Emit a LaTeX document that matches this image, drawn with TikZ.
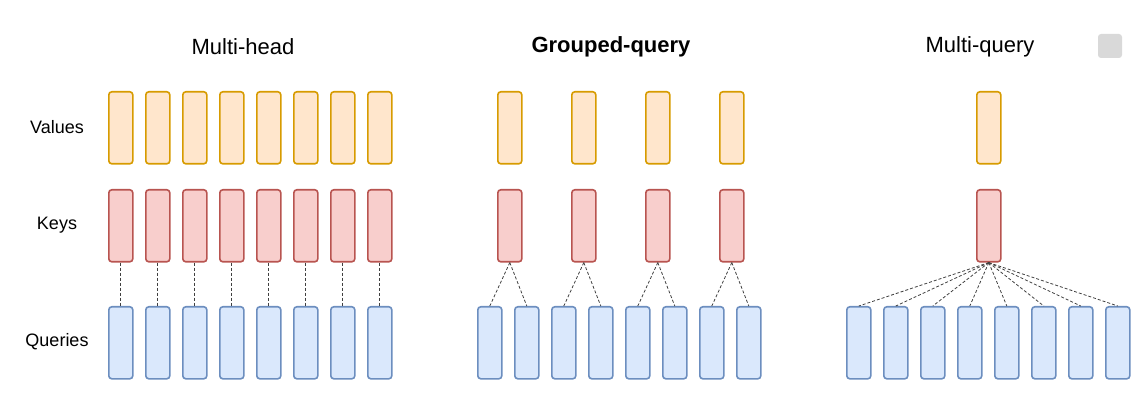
\documentclass[tikz,border=0pt]{standalone}
\usepackage{fontspec}
\setmainfont{Liberation Sans}
\definecolor{vfill}{HTML}{FFE6CC}\definecolor{vdraw}{HTML}{D79B00}
\definecolor{kfill}{HTML}{F8CECC}\definecolor{kdraw}{HTML}{B85450}
\definecolor{qfill}{HTML}{DAE8FC}\definecolor{qdraw}{HTML}{6C8EBF}
\begin{document}
\begin{tikzpicture}[x=1pt,y=-1pt,
  box/.style={draw,line width=1.6pt,rounded corners=3pt,minimum width=24pt,minimum height=72pt,inner sep=0pt,anchor=north west},
  val/.style={box,fill=vfill,draw=vdraw},
  key/.style={box,fill=kfill,draw=kdraw},
  qry/.style={box,fill=qfill,draw=qdraw},
  con/.style={draw=black!75,dashed,line width=0.8pt,dash pattern=on 3pt off 2pt},
  title/.style={font=\fontsize{22}{26}\selectfont},
  lab/.style={font=\fontsize{18}{22}\selectfont}]
\useasboundingbox (0,0) rectangle (1143,403);
\node[title] (t1) at (243,47) {Multi-head};
\node[title,font=\fontsize{22}{26}\selectfont\bfseries] (t2) at (611,47) {Grouped-query};
\node[title] (t3) at (980,47) {Multi-query};
\node[lab] (lv) at (57,127) {Values};
\node[lab] (lk) at (57,225) {Keys};
\node[lab] (lq) at (57,342) {Queries};
\node[draw=none,fill=black!15,rounded corners=3pt,minimum size=24pt] (icon) at (1110,46) {};
% Multi-head
\foreach \i in {0,...,7}{
  \node[val] (mv\i) at (108+37*\i,91) {};
  \node[key] (mk\i) at (108+37*\i,189) {};
  \node[qry] (mq\i) at (108+37*\i,306) {};
  \draw[con] (mk\i.south) -- (mq\i.north);
}
% Grouped-query
\foreach \g in {0,...,3}{
  \node[val] (gv\g) at (497+74*\g,91) {};
  \node[key] (gk\g) at (497+74*\g,189) {};
}
\foreach \i in {0,...,7}{
  \node[qry] (gq\i) at (477+37*\i,306) {};
  \pgfmathtruncatemacro{\g}{int(\i/2)}
  \draw[con] (gk\g.south) -- (gq\i.north);
}
% Multi-query
\node[val] (qv) at (976,91) {};
\node[key] (qk) at (976,189) {};
\foreach \i in {0,...,7}{
  \node[qry] (qq\i) at (846+37*\i,306) {};
  \draw[con] (qk.south) -- (qq\i.north);
}
\end{tikzpicture}
\end{document}
